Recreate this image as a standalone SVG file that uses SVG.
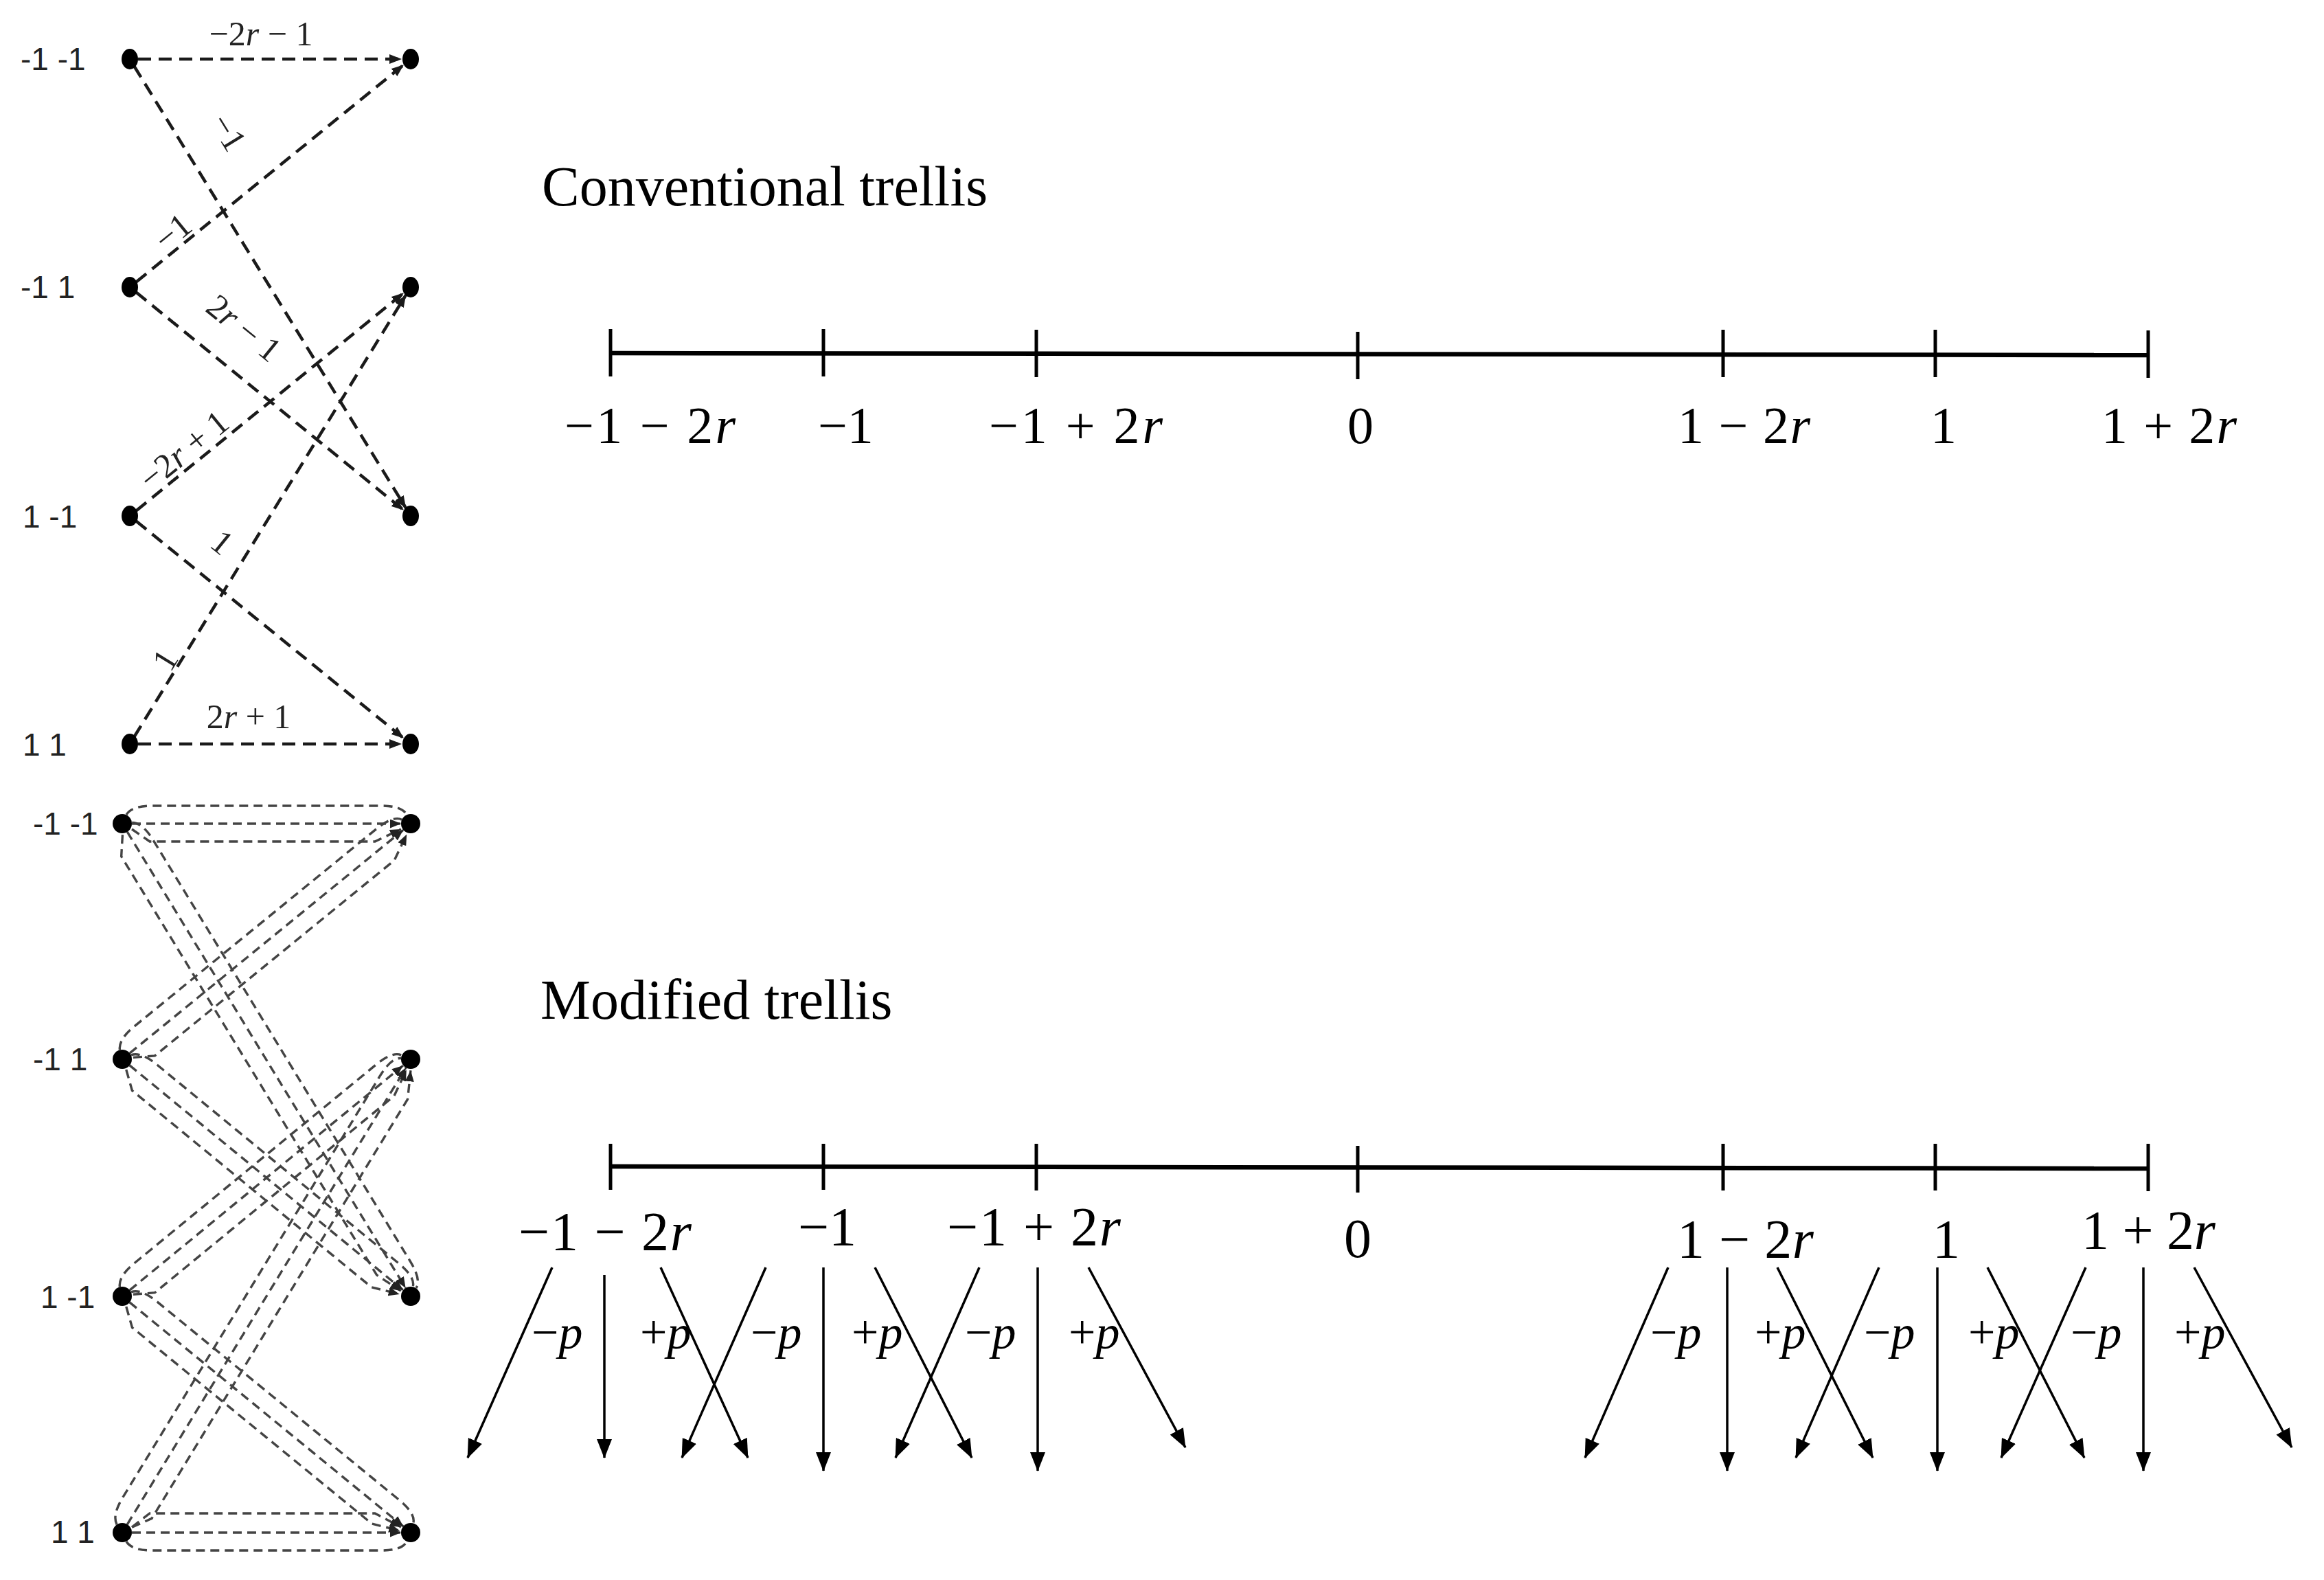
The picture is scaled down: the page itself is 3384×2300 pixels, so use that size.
<svg xmlns="http://www.w3.org/2000/svg" width="3384" height="2300" viewBox="0 0 3384 2300">
<style>
.bg{fill:#fff}
.node{fill:#000}
.lbl{font-family:"Liberation Sans",Arial,sans-serif;font-size:46px;fill:#222}
.math{font-family:"Liberation Serif","Times New Roman",serif;fill:#000}
.ml{font-size:50px;fill:#222}
.title{font-family:"Liberation Serif","Times New Roman",serif;font-size:82px;fill:#000}
.nl{font-size:76px}
.nl2{font-size:80px}
.pl{font-size:70px}
.tedge{stroke:#1a1a1a;stroke-width:4.5;stroke-dasharray:19 11;fill:none}
.bedge{stroke:#444;stroke-width:3.4;stroke-dasharray:13 8;fill:none}
.axis{stroke:#000;stroke-width:6.5;fill:none}
.tick{stroke:#000;stroke-width:5;fill:none}
.arr{stroke:#000;stroke-width:3.5;fill:none}
</style>
<defs>
<marker id="ta" markerUnits="userSpaceOnUse" markerWidth="18" markerHeight="14" refX="18" refY="7" orient="auto"><path d="M0,0 L18,7 L0,14 z" fill="#1a1a1a"/></marker>
<marker id="ba" markerUnits="userSpaceOnUse" markerWidth="16" markerHeight="13" refX="16" refY="6.5" orient="auto"><path d="M0,0 L16,6.5 L0,13 z" fill="#222"/></marker>
<marker id="na" markerUnits="userSpaceOnUse" markerWidth="28" markerHeight="22" refX="27" refY="11" orient="auto"><path d="M0,0 L28,11 L0,22 z" fill="#000"/></marker>
</defs>
<rect class="bg" x="0" y="0" width="3384" height="2300"/>

<!-- Conventional trellis diagram (top left) -->
<g id="conv-connectors">
<line class="tedge" x1="201" y1="86" x2="585" y2="86" marker-end="url(#ta)"/>
<line class="tedge" x1="195.3" y1="96.2" x2="591.2" y2="739.9" marker-end="url(#ta)"/>
<line class="tedge" x1="198.3" y1="410.4" x2="588" y2="94.2" marker-end="url(#ta)"/>
<line class="tedge" x1="198.3" y1="425.6" x2="588" y2="742.8" marker-end="url(#ta)"/>
<line class="tedge" x1="198.3" y1="743.4" x2="588" y2="426.2" marker-end="url(#ta)"/>
<line class="tedge" x1="198.3" y1="758.6" x2="588" y2="1074.8" marker-end="url(#ta)"/>
<line class="tedge" x1="195.3" y1="1072.8" x2="591.2" y2="429.1" marker-end="url(#ta)"/>
<line class="tedge" x1="201" y1="1083" x2="585" y2="1083" marker-end="url(#ta)"/>
</g>
<g id="conv-edge-labels" class="math ml">
<text x="380" y="66" text-anchor="middle">−2<tspan font-style="italic">r</tspan> − 1</text>
<text transform="translate(332,193) rotate(58.4)" x="0" y="16" text-anchor="middle">−1</text>
<text transform="translate(252,338) rotate(-39.1)" x="0" y="16" text-anchor="middle">−1</text>
<text transform="translate(355,478) rotate(39.2)" x="0" y="16" text-anchor="middle">2<tspan font-style="italic">r</tspan> − 1</text>
<text transform="translate(268,656) rotate(-39.2)" x="0" y="16" text-anchor="middle">−2<tspan font-style="italic">r</tspan> + 1</text>
<text transform="translate(323,790) rotate(39.1)" x="0" y="16" text-anchor="middle">1</text>
<text transform="translate(241,961) rotate(-58.4)" x="0" y="16" text-anchor="middle">1</text>
<text x="362" y="1060" text-anchor="middle">2<tspan font-style="italic">r</tspan> + 1</text>
</g>
<g id="conv-state-m1m1"><text class="lbl" x="30" y="102">-1 -1</text><ellipse class="node" cx="189" cy="86" rx="12" ry="15"/><ellipse class="node" cx="598" cy="86" rx="12" ry="15"/></g>
<g id="conv-state-m1p1"><text class="lbl" x="30" y="434">-1 1</text><ellipse class="node" cx="189" cy="418" rx="12" ry="15"/><ellipse class="node" cx="598" cy="418" rx="12" ry="15"/></g>
<g id="conv-state-p1m1"><text class="lbl" x="33" y="768">1 -1</text><ellipse class="node" cx="189" cy="751" rx="12" ry="15"/><ellipse class="node" cx="598" cy="751" rx="12" ry="15"/></g>
<g id="conv-state-p1p1"><text class="lbl" x="33" y="1100">1 1</text><ellipse class="node" cx="189" cy="1083" rx="12" ry="15"/><ellipse class="node" cx="598" cy="1083" rx="12" ry="15"/></g>

<!-- Modified trellis diagram (bottom left) -->
<g id="mod-connectors">
<g transform="translate(178,1199)">
<path class="bedge" d="M6,-13 Q14,-26 44,-26 L376,-26 Q408,-26 414,-13"/>
<path class="bedge" d="M14,0 L406,0" marker-end="url(#ba)"/>
<path class="bedge" d="M14,8 L40,26 L368,26 L406,8" marker-end="url(#ba)"/>
</g>
<g transform="translate(178,1199) rotate(58.6)">
<path class="bedge" d="M6,-13 Q14,-26 44,-26 L762,-26 Q794,-26 800,-13"/>
<path class="bedge" d="M14,0 L792,0" marker-end="url(#ba)"/>
<path class="bedge" d="M14,8 L40,26 L754,26 L792,8" marker-end="url(#ba)"/>
</g>
<g transform="translate(178,1542) rotate(-39.2)">
<path class="bedge" d="M6,-13 Q14,-26 44,-26 L498,-26 Q530,-26 536,-13"/>
<path class="bedge" d="M14,0 L528,0" marker-end="url(#ba)"/>
<path class="bedge" d="M14,8 L40,26 L490,26 L528,8" marker-end="url(#ba)"/>
</g>
<g transform="translate(178,1542) rotate(39.4)">
<path class="bedge" d="M6,-13 Q14,-26 44,-26 L499,-26 Q531,-26 537,-13"/>
<path class="bedge" d="M14,0 L529,0" marker-end="url(#ba)"/>
<path class="bedge" d="M14,8 L40,26 L491,26 L529,8" marker-end="url(#ba)"/>
</g>
<g transform="translate(178,1887) rotate(-39.4)">
<path class="bedge" d="M6,-13 Q14,-26 44,-26 L499,-26 Q531,-26 537,-13"/>
<path class="bedge" d="M14,0 L529,0" marker-end="url(#ba)"/>
<path class="bedge" d="M14,8 L40,26 L491,26 L529,8" marker-end="url(#ba)"/>
</g>
<g transform="translate(178,1887) rotate(39.3)">
<path class="bedge" d="M6,-13 Q14,-26 44,-26 L499,-26 Q531,-26 537,-13"/>
<path class="bedge" d="M14,0 L529,0" marker-end="url(#ba)"/>
<path class="bedge" d="M14,8 L40,26 L491,26 L529,8" marker-end="url(#ba)"/>
</g>
<g transform="translate(178,2231) rotate(-58.6)">
<path class="bedge" d="M6,-13 Q14,-26 44,-26 L763,-26 Q795,-26 801,-13"/>
<path class="bedge" d="M14,0 L793,0" marker-end="url(#ba)"/>
<path class="bedge" d="M14,8 L40,26 L755,26 L793,8" marker-end="url(#ba)"/>
</g>
<g transform="translate(178,2231) scale(1,-1)">
<path class="bedge" d="M6,-13 Q14,-26 44,-26 L376,-26 Q408,-26 414,-13"/>
<path class="bedge" d="M14,0 L406,0" marker-end="url(#ba)"/>
<path class="bedge" d="M14,8 L40,28 L368,28 L406,8" marker-end="url(#ba)"/>
</g>
</g>
<g id="mod-state-m1m1"><text class="lbl" x="48" y="1215">-1 -1</text><circle class="node" cx="178" cy="1199" r="14"/><circle class="node" cx="598" cy="1199" r="14"/></g>
<g id="mod-state-m1p1"><text class="lbl" x="48" y="1558">-1 1</text><circle class="node" cx="178" cy="1542" r="14"/><circle class="node" cx="598" cy="1542" r="14"/></g>
<g id="mod-state-p1m1"><text class="lbl" x="59" y="1904">1 -1</text><circle class="node" cx="178" cy="1887" r="14"/><circle class="node" cx="598" cy="1887" r="14"/></g>
<g id="mod-state-p1p1"><text class="lbl" x="74" y="2246">1 1</text><circle class="node" cx="178" cy="2231" r="14"/><circle class="node" cx="598" cy="2231" r="14"/></g>

<!-- Conventional number line -->
<g id="conv-title"><text class="title" x="789" y="299">Conventional trellis</text></g>
<g id="conv-axis">
<line class="axis" x1="889" y1="514" x2="3128" y2="517"/>
<line class="tick" x1="889" y1="479" x2="889" y2="548"/>
<line class="tick" x1="1199" y1="479" x2="1199" y2="548"/>
<line class="tick" x1="1509" y1="480" x2="1509" y2="549"/>
<line class="tick" x1="1977" y1="483" x2="1977" y2="552"/>
<line class="tick" x1="2509" y1="480" x2="2509" y2="549"/>
<line class="tick" x1="2818" y1="480" x2="2818" y2="549"/>
<line class="tick" x1="3128" y1="481" x2="3128" y2="550"/>
</g>
<g id="conv-axis-labels" class="math nl">
<text x="822" y="645" textLength="249" lengthAdjust="spacing">−1 − 2<tspan font-style="italic">r</tspan></text>
<text x="1191" y="645">−1</text>
<text x="1440" y="645" textLength="253" lengthAdjust="spacing">−1 + 2<tspan font-style="italic">r</tspan></text>
<text x="1962" y="645">0</text>
<text x="2443" y="645" textLength="193" lengthAdjust="spacing">1 − 2<tspan font-style="italic">r</tspan></text>
<text x="2811" y="645">1</text>
<text x="3060" y="645" textLength="197" lengthAdjust="spacing">1 + 2<tspan font-style="italic">r</tspan></text>
</g>

<!-- Modified number line -->
<g id="mod-title"><text class="title" x="787" y="1483">Modified trellis</text></g>
<g id="mod-axis">
<line class="axis" x1="889" y1="1698" x2="3128" y2="1701"/>
<line class="tick" x1="889" y1="1665" x2="889" y2="1732"/>
<line class="tick" x1="1199" y1="1665" x2="1199" y2="1732"/>
<line class="tick" x1="1509" y1="1665" x2="1509" y2="1733"/>
<line class="tick" x1="1977" y1="1668" x2="1977" y2="1736"/>
<line class="tick" x1="2509" y1="1665" x2="2509" y2="1733"/>
<line class="tick" x1="2818" y1="1665" x2="2818" y2="1733"/>
<line class="tick" x1="3128" y1="1665" x2="3128" y2="1734"/>
</g>
<g id="mod-axis-labels" class="math nl2">
<text x="755" y="1820" textLength="252" lengthAdjust="spacing">−1 − 2<tspan font-style="italic">r</tspan></text>
<text x="1162" y="1813">−1</text>
<text x="1379" y="1813" textLength="253" lengthAdjust="spacing">−1 + 2<tspan font-style="italic">r</tspan></text>
<text x="1977" y="1830" text-anchor="middle">0</text>
<text x="2442" y="1831" textLength="199" lengthAdjust="spacing">1 − 2<tspan font-style="italic">r</tspan></text>
<text x="2814" y="1831">1</text>
<text x="3031" y="1818" textLength="195" lengthAdjust="spacing">1 + 2<tspan font-style="italic">r</tspan></text>
</g>
<g id="mod-shift-arrows">
<line class="arr" x1="804" y1="1845" x2="681" y2="2122" marker-end="url(#na)"/>
<line class="arr" x1="880" y1="1856" x2="880" y2="2122" marker-end="url(#na)"/>
<line class="arr" x1="962" y1="1845" x2="1089" y2="2122" marker-end="url(#na)"/>
<line class="arr" x1="1115" y1="1845" x2="993" y2="2122" marker-end="url(#na)"/>
<line class="arr" x1="1199" y1="1845" x2="1199" y2="2141" marker-end="url(#na)"/>
<line class="arr" x1="1274" y1="1845" x2="1415" y2="2122" marker-end="url(#na)"/>
<line class="arr" x1="1426" y1="1845" x2="1304" y2="2122" marker-end="url(#na)"/>
<line class="arr" x1="1511" y1="1845" x2="1511" y2="2141" marker-end="url(#na)"/>
<line class="arr" x1="1585" y1="1845" x2="1726" y2="2107" marker-end="url(#na)"/>
<line class="arr" x1="2429" y1="1845" x2="2308" y2="2122" marker-end="url(#na)"/>
<line class="arr" x1="2515" y1="1845" x2="2515" y2="2141" marker-end="url(#na)"/>
<line class="arr" x1="2588" y1="1845" x2="2727" y2="2122" marker-end="url(#na)"/>
<line class="arr" x1="2736" y1="1845" x2="2615" y2="2122" marker-end="url(#na)"/>
<line class="arr" x1="2821" y1="1845" x2="2821" y2="2141" marker-end="url(#na)"/>
<line class="arr" x1="2894" y1="1845" x2="3035" y2="2122" marker-end="url(#na)"/>
<line class="arr" x1="3037" y1="1845" x2="2914" y2="2122" marker-end="url(#na)"/>
<line class="arr" x1="3121" y1="1845" x2="3121" y2="2141" marker-end="url(#na)"/>
<line class="arr" x1="3195" y1="1845" x2="3337" y2="2107" marker-end="url(#na)"/>
</g>
<g id="mod-shift-labels" class="math pl">
<text x="774" y="1963">−<tspan font-style="italic">p</tspan></text>
<text x="932" y="1963">+<tspan font-style="italic">p</tspan></text>
<text x="1093" y="1963">−<tspan font-style="italic">p</tspan></text>
<text x="1240" y="1963">+<tspan font-style="italic">p</tspan></text>
<text x="1405" y="1963">−<tspan font-style="italic">p</tspan></text>
<text x="1556" y="1963">+<tspan font-style="italic">p</tspan></text>
<text x="2403" y="1963">−<tspan font-style="italic">p</tspan></text>
<text x="2555" y="1963">+<tspan font-style="italic">p</tspan></text>
<text x="2714" y="1963">−<tspan font-style="italic">p</tspan></text>
<text x="2866" y="1963">+<tspan font-style="italic">p</tspan></text>
<text x="3015" y="1963">−<tspan font-style="italic">p</tspan></text>
<text x="3166" y="1963">+<tspan font-style="italic">p</tspan></text>
</g>
</svg>
